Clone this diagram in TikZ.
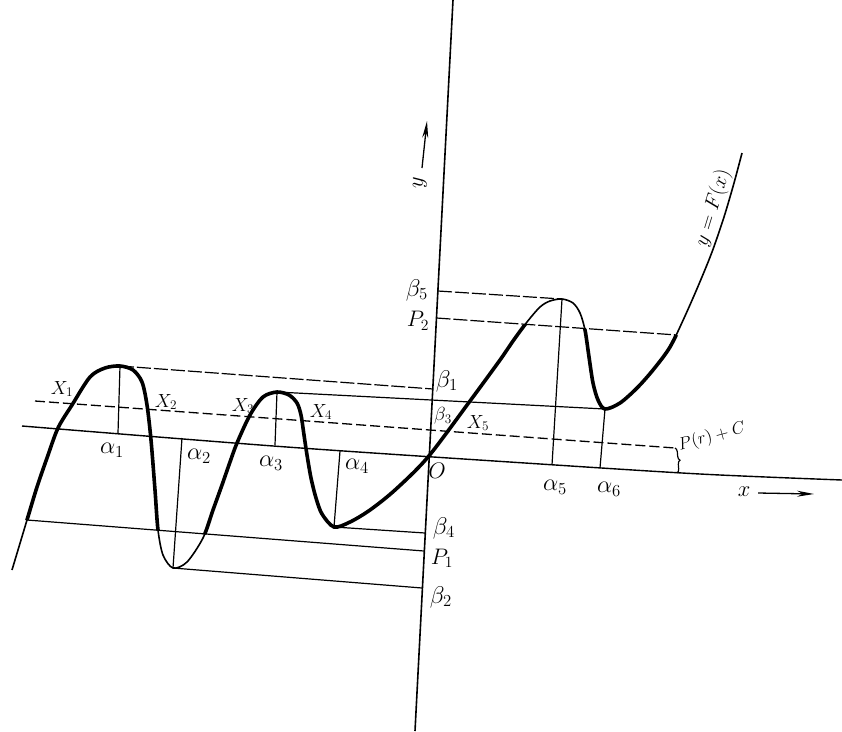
\documentclass[tikz,border=0pt]{standalone}
\usepackage{amsmath}
\usepackage{tikz}
\usetikzlibrary{arrows.meta,decorations.pathreplacing}

% the curve y = F(x), in picture units
\def\Fcurve{plot[smooth] coordinates {(12,570) (27,520) (37,487) (47,458) (58,428) (72,405) (90,377) (105,368) (120,366) (133,370) (142,382) (147,405) (151,440) (155,490) (158,530) (163,555) (173,568) (187,562) (203,538) (213,510) (222,485) (230,462) (237,443) (250,415) (263,397) (277,392) (289,395) (297,403) (301,415) (304,435) (307,455) (311,478) (316,498) (322,514) (334,527) (350,522) (370,510) (395,490) (428,457) (470,401) (500,360) (513,341) (527,322) (540,307) (550,301) (562,299) (573,303) (580,313) (585,330) (589,357) (593,383) (598,400) (605,409) (620,403) (637,388) (653,370) (670,347) (685,316) (699,284) (712,252) (724,217) (734,183) (742,153)}}

\begin{document}
\begin{tikzpicture}[x=1pt, y=-1pt, every node/.style={font=\LARGE, inner sep=1pt},
  greek/.style={scale=1.4},
  plabel/.style={scale=1.3},
  xlabel/.style={scale=1.1},
  thinline/.style={line width=1.2pt},
  longdash/.style={line width=1.2pt, dash pattern=on 14pt off 3pt},
  levelcut/.style={line width=1.3pt, dash pattern=on 10pt off 4pt},
  thickcurve/.style={line width=3.6pt, line cap=round},
  thincurve/.style={line width=1.6pt}]

  \useasboundingbox (0,0) rectangle (842,731);

  % Axes
  \coordinate (ytop) at (453,0);
  \coordinate (ybot) at (415,731);
  \coordinate (O) at (428,457);
  \draw[line width=1.6pt] (ytop) -- (ybot);
  \draw[line width=1.4pt] plot[smooth] coordinates {(22,426) (280,446.5) (525,463) (700,474) (842,480)};

  % turning points of the curve
  \coordinate (pk1) at (120,366);
  \coordinate (tr2) at (173,568);
  \coordinate (pk3) at (277,392);
  \coordinate (tr4) at (334,527);
  \coordinate (pk5) at (562,299);
  \coordinate (tr6) at (605,409);

  % feet on the x-axis
  \coordinate (a1) at (118,433);
  \coordinate (a2) at (182,438);
  \coordinate (a3) at (275,445);
  \coordinate (a4) at (340,451);
  \coordinate (a5) at (552,465);
  \coordinate (a6) at (600,468);

  % levels on the y-axis
  \coordinate (b5) at (438,291);
  \coordinate (p2) at (436.5,318);
  \coordinate (b1) at (433,389);
  \coordinate (b4) at (425,533);
  \coordinate (p1) at (424,551);
  \coordinate (b2) at (422,588);

  % other line ends
  \coordinate (p1left) at (27,520);
  \coordinate (p2right) at (677,335);
  \coordinate (crleft) at (35,401);
  \coordinate (crright) at (675,448);
  \coordinate (crfoot) at (677,473);

  % Verticals
  \draw[thinline] (pk1) -- (a1);
  \draw[thinline] (tr2) -- (a2);
  \draw[thinline] (pk3) -- (a3);
  \draw[thinline] (tr4) -- (a4);
  \draw[thinline] (pk5) -- (a5);
  \draw[thinline] (tr6) -- (a6);

  % Level lines
  \draw[longdash] (b5) -- (pk5);
  \draw[longdash] (p2) -- (p2right);
  \draw[longdash] (pk1) -- (b1);
  \draw[thinline] (pk3) -- (tr6);
  \draw[levelcut] (crleft) -- (crright);
  \draw[thinline] (tr4) -- (b4);
  \draw[thinline] (p1left) -- (p1);
  \draw[thinline] (tr2) -- (b2);

  % Brace for P(r)+C
  \draw[thinline, decorate, decoration={brace, amplitude=4pt}] (crright) -- (crfoot);
  \node[font=\Large, scale=1.2, rotate=15] (lPC) at (712,437) {$P(r)+C$};

  % The curve, thick between P1 and P2
  \draw[thincurve] \Fcurve;
  \begin{scope}
    \clip (0,287) -- (842,347) -- (842,586) -- (0,518) -- cycle;
    \draw[thickcurve] \Fcurve;
  \end{scope}
  \node[scale=1.2, rotate=73] (lF) at (713,208) {$y=F(x)$};

  % Axis arrows and names
  \coordinate (yarrA) at (422,168);
  \coordinate (yarrB) at (427,121);
  \draw[line width=1.3pt, -{Stealth[length=17pt, width=6pt]}] (yarrA) -- (yarrB);
  \node[scale=1.3, rotate=90] (ly) at (420,183) {$y$};
  \coordinate (xarrA) at (758,493);
  \coordinate (xarrB) at (814,494);
  \draw[line width=1.3pt, -{Stealth[length=17pt, width=6pt]}] (xarrA) -- (xarrB);
  \node[scale=1.3] (lx) at (744,492) {$x$};

  % X labels
  \node[xlabel] (lX1) at (62,389) {$X_1$};
  \node[xlabel] (lX2) at (166,402) {$X_2$};
  \node[xlabel] (lX3) at (243,406) {$X_3$};
  \node[xlabel] (lX4) at (321,412) {$X_4$};
  \node[xlabel] (lX5) at (478,423) {$X_5$};

  % alpha labels
  \node[greek] (la1) at (112,450) {$\alpha_1$};
  \node[greek] (la2) at (199,456) {$\alpha_2$};
  \node[greek] (la3) at (271,463) {$\alpha_3$};
  \node[greek] (la4) at (357,466) {$\alpha_4$};
  \node[greek] (la5) at (555,487) {$\alpha_5$};
  \node[greek] (la6) at (609,489) {$\alpha_6$};
  \node[scale=1.3] (lO) at (437,471) {$O$};

  % beta and P labels
  \node[greek] (lb5) at (417,290) {$\beta_5$};
  \node[plabel] (lp2) at (418,321) {$P_2$};
  \node[greek] (lb1) at (447,381) {$\beta_1$};
  \node[scale=1.1] (lb3) at (443,416) {$\beta_3$};
  \node[greek] (lb4) at (444,528) {$\beta_4$};
  \node[plabel] (lp1) at (442,558) {$P_1$};
  \node[greek] (lb2) at (441,597) {$\beta_2$};
\end{tikzpicture}
\end{document}
